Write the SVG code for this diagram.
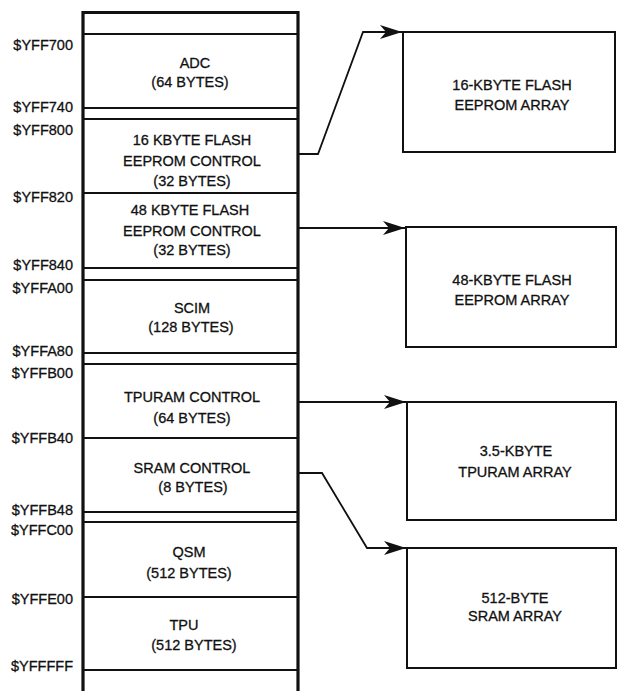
<svg xmlns="http://www.w3.org/2000/svg" width="618" height="691" viewBox="0 0 618 691">
<defs>
<style>
text{font-family:"Liberation Sans",Arial,sans-serif;font-size:14.5px;fill:#111;stroke:#111;stroke-width:0.3}
.c{text-anchor:middle}
.a{text-anchor:end}
.blk{fill:none;stroke:#111;stroke-width:2}
.box{fill:#fff;stroke:#111;stroke-width:2}
.col{fill:none;stroke:#111;stroke-width:3.2}
.cn{fill:none;stroke:#111;stroke-width:1.8;marker-end:url(#arr)}
</style>
<marker id="arr" markerUnits="userSpaceOnUse" markerWidth="24" markerHeight="16" refX="22" refY="7" orient="auto">
<path d="M0,0 L22,7 L0,14 L6,7 Z" fill="#111"/>
</marker>
</defs>
<rect width="618" height="691" fill="#fff"/>

<g id="column">
<path class="col" d="M83,693 V12.5 H298 V693"/>
</g>

<g id="adc">
<rect class="blk" x="83" y="34" width="215" height="74"/>
<text class="a" x="73" y="50">$YFF700</text>
<text class="a" x="73" y="112">$YFF740</text>
<text class="c" x="195" y="68">ADC</text>
<text class="c" x="190" y="87">(64 BYTES)</text>
</g>

<g id="flash16ctl">
<rect class="blk" x="83" y="119" width="215" height="74"/>
<text class="a" x="73" y="135">$YFF800</text>
<text class="c" x="192" y="145">16 KBYTE FLASH</text>
<text class="c" x="192" y="166">EEPROM CONTROL</text>
<text class="c" x="192" y="186">(32 BYTES)</text>
</g>

<g id="flash48ctl">
<rect class="blk" x="83" y="193" width="215" height="75"/>
<text class="a" x="73" y="202">$YFF820</text>
<text class="a" x="73" y="270">$YFF840</text>
<text class="c" x="190" y="215">48 KBYTE FLASH</text>
<text class="c" x="192" y="236">EEPROM CONTROL</text>
<text class="c" x="192" y="255">(32 BYTES)</text>
</g>

<g id="scim">
<rect class="blk" x="83" y="280" width="215" height="73"/>
<text class="a" x="73" y="293">$YFFA00</text>
<text class="a" x="73" y="356">$YFFA80</text>
<text class="c" x="192" y="313">SCIM</text>
<text class="c" x="191" y="332">(128 BYTES)</text>
</g>

<g id="tpuramctl">
<rect class="blk" x="83" y="364" width="215" height="74"/>
<text class="a" x="73" y="378">$YFFB00</text>
<text class="c" x="192" y="402">TPURAM CONTROL</text>
<text class="c" x="192" y="423">(64 BYTES)</text>
</g>

<g id="sramctl">
<rect class="blk" x="83" y="438" width="215" height="74"/>
<text class="a" x="73" y="443">$YFFB40</text>
<text class="a" x="73" y="515">$YFFB48</text>
<text class="c" x="192" y="473">SRAM CONTROL</text>
<text class="c" x="193" y="492">(8 BYTES)</text>
</g>

<g id="qsm">
<rect class="blk" x="83" y="522" width="215" height="75"/>
<text class="a" x="73" y="535">$YFFC00</text>
<text class="c" x="189" y="557">QSM</text>
<text class="c" x="189" y="578">(512 BYTES)</text>
</g>

<g id="tpu">
<rect class="blk" x="83" y="597" width="215" height="73"/>
<text class="a" x="73" y="604">$YFFE00</text>
<text class="a" x="73" y="671">$YFFFFF</text>
<text class="c" x="184" y="630">TPU</text>
<text class="c" x="194" y="650">(512 BYTES)</text>
</g>

<g id="flash16arr">
<rect class="box" x="403" y="32" width="212" height="120"/>
<text class="c" x="512" y="90">16-KBYTE FLASH</text>
<text class="c" x="512" y="110">EEPROM ARRAY</text>
</g>

<g id="flash48arr">
<rect class="box" x="406" y="227" width="210" height="120"/>
<text class="c" x="512" y="285">48-KBYTE FLASH</text>
<text class="c" x="512" y="305">EEPROM ARRAY</text>
</g>

<g id="tpuramarr">
<rect class="box" x="407" y="402" width="209" height="118"/>
<text class="c" x="516" y="456">3.5-KBYTE</text>
<text class="c" x="515" y="477">TPURAM ARRAY</text>
</g>

<g id="sramarr">
<rect class="box" x="407" y="548" width="209" height="120"/>
<text class="c" x="515" y="603">512-BYTE</text>
<text class="c" x="515" y="621">SRAM ARRAY</text>
</g>

<g id="connectors">
<polyline class="cn" points="299,154 318,154 363,32 402,32"/>
<polyline class="cn" points="299,228 405,228"/>
<polyline class="cn" points="299,402 406,402"/>
<polyline class="cn" points="299,473 322,473 367,548 406,548"/>
</g>
</svg>
